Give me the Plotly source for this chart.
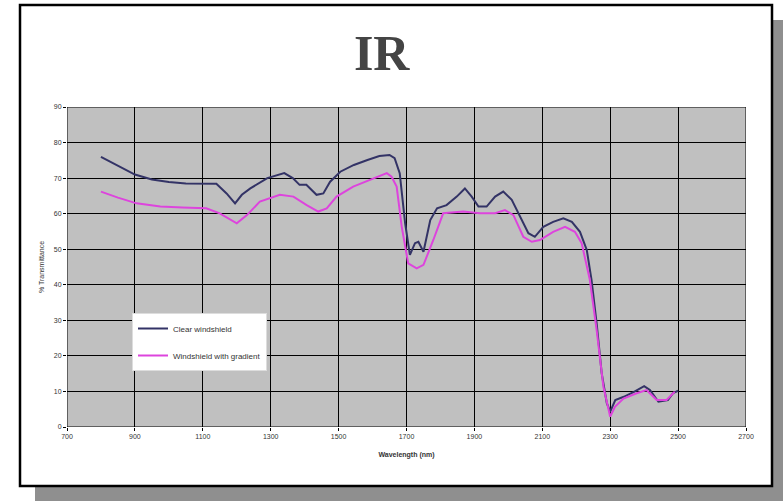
import plotly.graph_objects as go

# Data
clear_wl = [800, 850, 900, 950, 1000, 1050, 1100, 1140, 1170, 1195, 1215, 1240, 1290, 1340, 1365,
            1385, 1405, 1435, 1455, 1475, 1505, 1545, 1585, 1620, 1650, 1665, 1680, 1696, 1710,
            1725, 1735, 1750, 1770, 1790, 1818, 1848, 1872, 1892, 1912, 1936, 1961, 1985, 2010,
            2034, 2059, 2078, 2103, 2132, 2162, 2187, 2211, 2231, 2245, 2260, 2275, 2290, 2300,
            2315, 2340, 2370, 2400, 2417, 2442, 2470, 2485, 2500]
clear_t = [76.0, 73.6, 71.0, 69.6, 68.9, 68.5, 68.4, 68.4, 65.7, 62.9, 65.3, 67.1, 70.0, 71.4, 70.0,
           68.1, 68.1, 65.3, 65.7, 69.0, 71.8, 73.7, 75.1, 76.2, 76.5, 75.6, 71.4, 57.3, 48.4,
           51.7, 52.1, 49.3, 58.2, 61.5, 62.4, 64.8, 67.1, 64.8, 62.0, 62.0, 64.8, 66.2, 63.9,
           59.2, 54.5, 53.5, 56.3, 57.7, 58.7, 57.7, 54.9, 49.8, 41.4, 29.2, 15.1, 6.7, 4.3,
           7.6, 8.5, 9.9, 11.5, 10.4, 7.1, 7.6, 9.5, 10.2]

grad_wl = [800, 850, 905, 975, 1040, 1110, 1150, 1200, 1230, 1268, 1327, 1367, 1406, 1440, 1465,
           1494, 1543, 1602, 1642, 1656, 1671, 1686, 1705, 1730, 1750, 1779, 1808, 1867, 1916,
           1961, 1990, 2015, 2044, 2069, 2093, 2132, 2167, 2196, 2216, 2240, 2260, 2280, 2300,
           2314, 2339, 2378, 2407, 2437, 2466, 2490]
grad_t = [66.2, 64.5, 62.9, 62.0, 61.7, 61.5, 60.1, 57.3, 59.6, 63.4, 65.3, 64.8, 62.4, 60.6, 61.5,
          64.8, 67.6, 70.0, 71.4, 70.4, 67.6, 56.3, 46.0, 44.6, 45.6, 52.6, 60.1, 60.6, 60.1,
          60.1, 61.0, 59.6, 53.5, 52.1, 52.6, 54.9, 56.3, 54.9, 51.7, 41.4, 27.3, 11.3, 2.9,
          5.7, 8.0, 9.5, 10.4, 7.6, 7.6, 9.9]

x_ticks = [700, 900, 1100, 1300, 1500, 1700, 1900, 2100, 2300, 2500, 2700]
y_ticks = [0, 10, 20, 30, 40, 50, 60, 70, 80, 90]
series_names = ["Clear windshield", "Windshield with gradient"]

W, H = 783, 501
# plot area in page pixels: x 67..746, y 107..427
L, T = 67, 107
pw, ph = 679, 320
R = W - L - pw
B = H - T - ph


def px(x):  # page pixel -> paper fraction
    return (x - L) / pw


def py(y):
    return (T + ph - y) / ph


fig = go.Figure()
fig.add_trace(go.Scatter(x=clear_wl, y=clear_t, mode="lines", name=series_names[0],
                         line=dict(color="#333366", width=2), legendgroup="a"))
fig.add_trace(go.Scatter(x=grad_wl, y=grad_t, mode="lines", name=series_names[1],
                         line=dict(color="#dd44dd", width=2), legendgroup="b"))

shapes = [
    # shadow
    dict(type="rect", xref="paper", yref="paper", x0=px(35), x1=px(800), y0=py(20), y1=py(520),
         fillcolor="#8f8f8f", line=dict(width=0), layer="below"),
    # frame
    dict(type="rect", xref="paper", yref="paper", x0=px(20), x1=px(772), y0=py(5), y1=py(486),
         fillcolor="white", line=dict(color="black", width=2.5), layer="below"),
    # plot area
    dict(type="rect", xref="x", yref="y", x0=700, x1=2700, y0=0, y1=90,
         fillcolor="#c0c0c0", line=dict(color="black", width=1), layer="below"),
]

fig.update_layout(
    width=W, height=H,
    margin=dict(l=L, r=R, t=T, b=B),
    paper_bgcolor="white",
    plot_bgcolor="rgba(0,0,0,0)",
    shapes=shapes,
    font=dict(family="Liberation Sans, Arial, sans-serif", size=7, color="#333"),
    title=dict(text="<b>IR</b>", x=px(398), xanchor="center", y=1 - 52 / H, yanchor="middle",
               font=dict(family="Liberation Serif, Times New Roman, serif", size=50, color="#444")),
    legend=dict(x=px(132), y=py(313), xanchor="left", yanchor="top",
                bgcolor="white", bordercolor="#dddddd", borderwidth=1,
                font=dict(size=8, color="#333"), itemwidth=30, tracegroupgap=8,
                traceorder="grouped"),
    xaxis=dict(range=[700, 2700], tickvals=x_ticks, ticktext=[str(v) for v in x_ticks],
               showgrid=True, gridcolor="black", gridwidth=1, zeroline=False,
               ticks="outside", ticklen=3, tickcolor="black", showline=False,
               title=dict(text="<b>Wavelength (nm)</b>", font=dict(size=7, color="#333"), standoff=12)),
    yaxis=dict(range=[0, 90], tickvals=y_ticks, ticktext=[str(v) for v in y_ticks],
               showgrid=True, gridcolor="black", gridwidth=1, zeroline=False,
               ticks="outside", ticklen=3, tickcolor="black", showline=False,
               title=dict(text="% Transmittance", font=dict(size=7, color="#333"), standoff=8)),
)

fig.write_html("out.html",
               config={"displayModeBar": False},
               post_script="document.body.style.margin='0px';document.body.style.overflow='hidden';")
